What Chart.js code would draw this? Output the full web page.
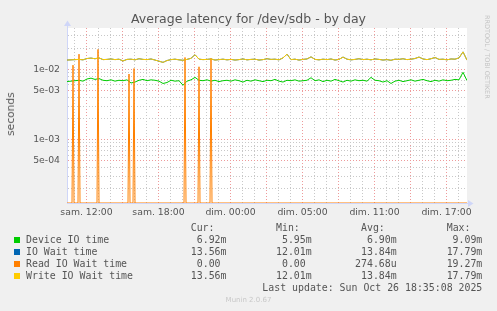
<!DOCTYPE html>
<html>
<head>
<meta charset="utf-8">
<script src="https://cdn.jsdelivr.net/npm/chart.js@4/dist/chart.umd.min.js"></script>
<style>
  html, body { margin: 0; padding: 0; background: #f0f0f0; }
  #wrap { position: relative; width: 497px; height: 311px; overflow: hidden; font-family: "DejaVu Sans", sans-serif; color: #555; }
  #wrap canvas { position: absolute; left: 0; top: 0; }
  .abs { position: absolute; white-space: pre; line-height: 12px; }
  .mono { font-family: "DejaVu Sans Mono", monospace; font-size: 9.9px; }
  .box { position: absolute; width: 6px; height: 6px; }
</style>
</head>
<body>
<div id="wrap">
  <canvas id="chart" width="497" height="230"></canvas>
  <div class="abs" id="title" style="left:0; width:497px; top:12px; text-align:center; font-size:12.5px; line-height:14px;">Average latency for /dev/sdb - by day</div>
  <div class="abs" style="left:11px; top:114px; font-size:10.7px; transform: translate(-50%, -50%) rotate(-90deg);">seconds</div>
  <div class="abs" style="left:483px; top:15px; font-size:6.5px; line-height:8px; color:#c4c4c4; writing-mode: vertical-rl;">RRDTOOL / TOBI OETIKER</div>
  <div id="legend"></div>
  <div class="abs" style="left:0; width:497px; top:295px; text-align:center; font-size:7px; line-height:10px; color:#c8c8c8;">Munin 2.0.67</div>
</div>
<script>
// values in ms, one sample every 4 steps (20 min) from the left edge
var deviceIO = [
  6.7, 6.8, 6.9, 7.0, 6.8, 7.3, 7.5, 7.2, 7.4, 7.0,
  6.9, 7.1, 6.8, 7.0, 6.9, 7.1, 6.4, 6.6, 7.0, 7.2,
  6.9, 7.1, 7.0, 6.8, 6.3, 6.5, 7.0, 6.8, 6.9, 5.95,
  6.8, 7.1, 7.7, 7.0, 6.9, 7.1, 6.8, 7.0, 6.7, 6.9,
  7.0, 6.8, 7.1, 6.9, 6.6, 7.0, 6.8, 7.1, 6.9, 6.7,
  7.0, 6.9, 7.2, 6.8, 6.6, 7.0, 6.9, 7.1, 6.8, 6.9,
  7.0, 7.6, 6.9, 7.1, 6.7, 7.0, 6.8, 7.2, 6.9, 6.6,
  7.0, 6.8, 7.1, 6.9, 7.0, 6.8, 7.7, 7.0, 6.9, 6.6,
  6.9, 6.3, 6.8, 7.0, 6.7, 6.9, 7.1, 6.8, 7.0, 7.2,
  6.9, 6.7, 7.0, 6.8, 7.1, 6.9, 7.0, 7.2, 7.1, 9.09,
  6.92
];
var writeWait = [
  13.6, 13.7, 13.8, 13.9, 13.7, 14.3, 14.5, 14.2, 14.6, 13.8,
  13.9, 14.1, 13.8, 14.0, 13.2, 13.9, 14.0, 13.7, 14.2, 13.9,
  13.8, 14.1, 13.6, 13.1, 12.6, 13.4, 13.8, 14.0, 13.7, 13.5,
  13.9, 14.4, 16.2, 14.0, 13.8, 13.9, 14.1, 13.6, 13.8, 14.0,
  13.7, 13.9, 13.6, 13.8, 14.1, 13.7, 13.9, 14.0, 13.6, 13.8,
  14.2, 13.9, 14.0, 13.7, 14.6, 16.5, 13.8, 14.0, 13.6, 13.9,
  14.1, 15.1, 13.9, 13.7, 14.0, 13.8, 14.1, 13.6, 13.9, 15.0,
  14.0, 13.7, 13.9, 14.2, 13.8, 14.0, 13.7, 14.1, 13.9, 13.6,
  13.8, 13.5, 14.0, 13.9, 14.2, 13.8, 14.0, 14.3, 15.0, 14.1,
  13.8, 14.2, 14.8, 13.9, 14.0, 13.7, 14.1, 14.0, 14.6, 17.79,
  13.56
];
// IO wait equals write wait on this disk
var ioWait = writeWait.slice();
// read wait is 0 except short spikes: [step, ms]
var readSpikes = [[6, 11.5], [12, 16.5], [31, 19.27], [62, 8.6], [67, 10.3], [118, 14.8], [132, 10.9], [144, 14.4]];

var sampleEvery = 4;
var totalSteps = 400;

var seriesNames  = ['Device IO time', 'IO Wait time', 'Read IO Wait time', 'Write IO Wait time'];
var seriesColors = ['#00CC00', '#0066B3', '#FF8000', '#FFCC00'];
var curVals = ['6.92m', '13.56m', '0.00 ', '13.56m'];
var minVals = ['5.95m', '12.01m', '0.00 ', '12.01m'];
var avgVals = ['6.90m', '13.84m', '274.68u', '13.84m'];
var maxVals = ['9.09m', '17.79m', '19.27m', '17.79m'];
var lastUpdate = 'Last update: Sun Oct 26 18:35:08 2025';

// axes
var yMin = 1.24e-4, yMax = 0.039;
var yGrid = [2e-4, 3e-4, 4e-4, 5e-4, 6e-4, 7e-4, 8e-4, 9e-4,
             1e-3, 2e-3, 3e-3, 4e-3, 5e-3, 6e-3, 7e-3, 8e-3, 9e-3,
             1e-2, 2e-2, 3e-2];
var yLabelVals = [5e-4, 1e-3, 5e-3, 1e-2];
var yLabels    = ['5e-04', '1e-03', '5e-03', '1e-02'];
var xLabelPos  = [19.5, 91.5, 163.5, 235.5, 307.5, 379.5];
var xLabels    = ['sam. 12:00', 'sam. 18:00', 'dim. 00:00', 'dim. 05:00', 'dim. 11:00', 'dim. 17:00'];
var xHourFirst = 7.5, xHour = 12;

var gridGray = '#c8c8c8',
    gridRed  = '#ee9a9a',
    axisColor = '#cfd6f8';

function toPoints(arr){
    return arr.map(function(v, i){ return {x: i * sampleEvery, y: v / 1000}; });
}

function readPoints(){
    // zero is drawn on the log floor, like rrdtool does
    var pts = [{x: 0, y: yMin}];
    readSpikes.forEach(function(s){
        pts.push({x: s[0] - 1, y: yMin});
        pts.push({x: s[0], y: s[1] / 1000});
        pts.push({x: s[0] + 1, y: yMin});
    });
    pts.push({x: totalSteps, y: yMin});
    return pts;
}

var xHourTicks = [];
for (var t = xHourFirst; t < totalSteps; t += xHour) xHourTicks.push(t);

function near(a, b){ return Math.abs(a - b) < 1e-9 * Math.max(1, Math.abs(b)) + 1e-12; }

var muninFrame = {
    id: 'muninFrame',
    beforeDraw: function(chart){
        var a = chart.chartArea, ctx = chart.ctx;
        ctx.save();
        ctx.fillStyle = '#ffffff';
        ctx.fillRect(a.left, a.top, a.right - a.left, a.bottom - a.top);
        ctx.restore();
    },
    afterDraw: function(chart){
        var a = chart.chartArea, ctx = chart.ctx;
        var lx = Math.round(a.left) + 0.5, by = Math.round(a.bottom) + 0.5;
        ctx.save();
        ctx.strokeStyle = axisColor;
        ctx.fillStyle = axisColor;
        ctx.lineWidth = 1;
        ctx.beginPath();
        ctx.moveTo(lx, a.top); ctx.lineTo(lx, a.top - 3);
        ctx.moveTo(a.right, by); ctx.lineTo(a.right + 2, by);
        ctx.stroke();
        ctx.beginPath();
        ctx.moveTo(lx - 3.5, a.top - 2); ctx.lineTo(lx + 3.5, a.top - 2); ctx.lineTo(lx, a.top - 7.5);
        ctx.closePath(); ctx.fill();
        ctx.beginPath();
        ctx.moveTo(a.right + 1, by - 3.5); ctx.lineTo(a.right + 1, by + 3.5); ctx.lineTo(a.right + 6.5, by);
        ctx.closePath(); ctx.fill();
        ctx.restore();
    }
};

var tickFont = {family: 'DejaVu Sans', size: 9.3};

var chart = new Chart(document.getElementById('chart'), {
    type: 'line',
    data: {
        datasets: [
            {label: seriesNames[0], data: toPoints(deviceIO), borderColor: seriesColors[0], order: 4},
            {label: seriesNames[1], data: toPoints(ioWait), borderColor: seriesColors[1], order: 3},
            {label: seriesNames[2], data: readPoints(), borderColor: seriesColors[2], order: 2},
            {label: seriesNames[3], data: toPoints(writeWait), borderColor: seriesColors[3], order: 1}
        ]
    },
    options: {
        responsive: false,
        animation: false,
        events: [],
        layout: {padding: {top: 28, right: 30, left: 0, bottom: 0}},
        elements: {
            line: {borderWidth: 1, tension: 0, fill: false},
            point: {radius: 0}
        },
        plugins: {legend: {display: false}, tooltip: {enabled: false}, title: {display: false}},
        scales: {
            x: {
                type: 'linear', min: 0, max: totalSteps,
                afterFit: function(s){ s.height = 27; },
                afterBuildTicks: function(s){ s.ticks = xHourTicks.map(function(v){ return {value: v}; }); },
                ticks: {
                    autoSkip: false, maxRotation: 0, padding: 4, color: '#555', font: tickFont,
                    callback: function(v){
                        for (var i = 0; i < xLabelPos.length; i++) if (Math.abs(xLabelPos[i] - v) < 0.01) return xLabels[i];
                        return '';
                    }
                },
                grid: {
                    drawTicks: false,
                    color: function(c){
                        if (!c.tick) return gridGray;
                        var k = Math.round((c.tick.value - xHourFirst) / xHour);
                        return (k % 3 === 1) ? gridRed : gridGray;
                    }
                },
                border: {color: axisColor, dash: [1, 2]}
            },
            y: {
                type: 'logarithmic', min: yMin, max: yMax,
                afterFit: function(s){ s.width = 67; },
                afterBuildTicks: function(s){ s.ticks = yGrid.map(function(v){ return {value: v}; }); },
                ticks: {
                    autoSkip: false, padding: 7, color: '#555', font: tickFont,
                    callback: function(v){
                        for (var i = 0; i < yLabelVals.length; i++) if (near(v, yLabelVals[i])) return yLabels[i];
                        return '';
                    }
                },
                grid: {
                    drawTicks: false,
                    color: function(c){
                        if (!c.tick) return gridGray;
                        for (var i = 0; i < yLabelVals.length; i++) if (near(c.tick.value, yLabelVals[i])) return gridRed;
                        return gridGray;
                    }
                },
                border: {color: axisColor, dash: [1, 2]}
            }
        }
    },
    plugins: [muninFrame]
});

// legend block, laid out like the rrdtool text rows
var legend = document.getElementById('legend');
function put(html, style){
    var d = document.createElement('div');
    d.className = 'abs mono';
    d.setAttribute('style', style);
    d.textContent = html;
    legend.appendChild(d);
}
var colRight = [226.5, 311.7, 396.7, 482.3];
var headLeft = [190.7, 276, 361, 446.7];
['Cur:', 'Min:', 'Avg:', 'Max:'].forEach(function(h, i){
    put(h, 'left:' + headLeft[i] + 'px; top:221.5px;');
});
seriesNames.forEach(function(name, r){
    var top = 233.5 + r * 12;
    var b = document.createElement('div');
    b.className = 'box';
    b.setAttribute('style', 'left:14px; top:' + (top + 3) + 'px; background:' + seriesColors[r] + ';');
    legend.appendChild(b);
    put(name, 'left:26px; top:' + top + 'px;');
    [curVals, minVals, avgVals, maxVals].forEach(function(col, c){
        put(col[r], 'right:' + (497 - colRight[c]) + 'px; top:' + top + 'px;');
    });
});
put(lastUpdate, 'right:' + (497 - 482.3) + 'px; top:281.5px;');
</script>
</body>
</html>
